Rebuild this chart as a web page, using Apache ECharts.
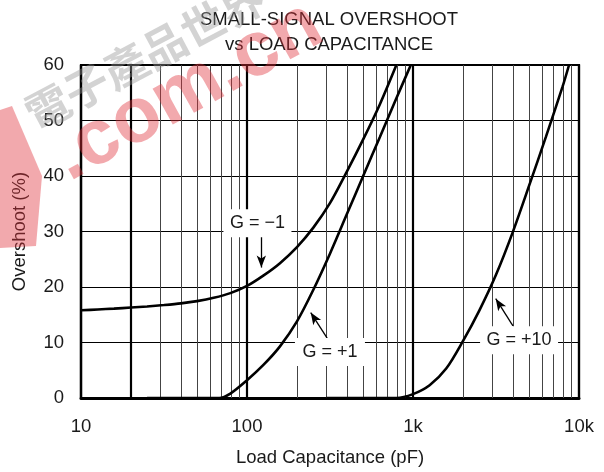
<!DOCTYPE html>
<html style="height: 100%">
<head>
<meta charset="utf-8">
<style type="text/css">
  body, html { margin: 0; width: 100%; height: 100%; background: #fff; }
  #chart { width: 604px; height: 472px; }
</style>
</head>
<body>
<div id="chart"></div>
<script type="text/javascript" src="https://cdn.jsdelivr.net/npm/echarts@6/dist/echarts.min.js"></script>
<script type="text/javascript">
// load capacitance (pF) / overshoot (%)
var gm1X = [10, 12.6, 15.8, 20, 25, 31.6, 40, 50, 63, 79.4, 100, 126, 158, 200, 251, 316, 398, 501, 631, 794];
var gm1Y = [15.8, 15.95, 16.1, 16.3, 16.5, 16.75, 17.05, 17.45, 18.05, 18.9, 20.2, 22.1, 24.3, 27.2, 30.7, 35.1, 40.7, 46.6, 52.9, 60];
var gp1X = [25, 40, 55, 68, 79.4, 100, 126, 158, 200, 251, 316, 398, 501, 631, 794, 970];
var gp1Y = [0, 0, 0, 0, 0.8, 3.2, 6.0, 9.3, 13.8, 19.5, 26, 33, 40, 47, 54, 60];
var gp10X = [300, 500, 794, 1000, 1259, 1585, 1995, 2512, 3162, 3981, 5012, 6310, 7943, 8710];
var gp10Y = [0, 0, 0, 0.7, 2.3, 5.3, 10.2, 15.8, 22.2, 29.8, 38.3, 47.0, 56.0, 60];

var xTickVals = [10, 100, 1000, 10000];
var xTickText = ['10', '100', '1k', '10k'];
var minorLines = [20, 30, 40, 50, 60, 70, 80, 90,
                  200, 300, 400, 500, 600, 700, 800, 900,
                  2000, 3000, 4000, 5000, 6000, 7000, 8000, 9000];
var heavyLines = [20];

var labelText = ['G = \u22121', 'G = +1', 'G = +10'];
var labelX = [115.6, 316, 4355];
var labelY = [31.5, 8.3, 10.4];
var labelW = [68, 70, 78];
var arrowFrom = [[122, 29.3], [304, 10.8], [4000, 13.0]];
var arrowTo = [[122, 23.5], [242, 15.4], [3150, 17.9]];

var font = 'Liberation Sans, Arial, sans-serif';
var ink = '#1a1a1a';
var fs = 18.5;

function pairs(xs, ys) {
  var out = [];
  for (var i = 0; i < xs.length; i++) out.push([xs[i], ys[i]]);
  return out;
}

var chart = echarts.init(document.getElementById('chart'), null, { renderer: 'canvas' });

var vLines = [];
for (var i = 0; i < minorLines.length; i++) {
  var heavy = heavyLines.indexOf(minorLines[i]) >= 0;
  vLines.push({
    xAxis: minorLines[i],
    lineStyle: { color: heavy ? '#000' : '#444', width: heavy ? 2.2 : 1, type: 'solid' }
  });
}
var arrows = [];
for (var i = 0; i < arrowFrom.length; i++) {
  arrows.push([{ coord: arrowFrom[i], symbol: 'none' }, { coord: arrowTo[i], symbol: 'arrow', symbolSize: [7, 12] }]);
}
var boxes = [];
for (var i = 0; i < labelText.length; i++) {
  boxes.push({
    coord: [labelX[i], labelY[i]],
    symbol: 'rect',
    symbolSize: [labelW[i], 28],
    itemStyle: { color: '#fff' },
    label: { show: true, position: 'inside', formatter: labelText[i], color: ink, fontSize: 18, fontFamily: font }
  });
}

function curve(name, xs, ys) {
  return {
    name: name,
    type: 'line',
    data: pairs(xs, ys),
    smooth: 0.3,
    symbol: 'none',
    z: 5,
    lineStyle: { color: '#000', width: 2.6 }
  };
}

var option = {
  animation: false,
  backgroundColor: '#fff',
  title: {
    text: 'SMALL-SIGNAL OVERSHOOT\nvs LOAD CAPACITANCE',
    left: 324,
    top: 2,
    textAlign: 'center',
    textStyle: { fontSize: fs, fontWeight: 'normal', color: ink, fontFamily: font, lineHeight: 25 }
  },
  grid: {
    left: 81, right: 25, top: 65, bottom: 71,
    show: true, borderColor: '#000', borderWidth: 2.2
  },
  xAxis: {
    type: 'log',
    logBase: 10,
    min: 10,
    max: 10000,
    name: 'Load Capacitance (pF)',
    nameLocation: 'middle',
    nameGap: 50,
    nameTextStyle: { fontSize: fs, color: ink, fontFamily: font },
    axisLine: { show: true, lineStyle: { color: '#000', width: 3 } },
    axisTick: { show: false },
    axisLabel: {
      fontSize: fs, color: ink, fontFamily: font, margin: 19,
      formatter: function (v) {
        var k = xTickVals.indexOf(Math.round(v));
        return k >= 0 ? xTickText[k] : '';
      }
    },
    splitLine: { show: true, lineStyle: { color: '#000', width: 2.2 } }
  },
  yAxis: {
    type: 'value',
    min: 0,
    max: 60,
    interval: 10,
    name: 'Overshoot (%)',
    nameLocation: 'middle',
    nameGap: 52,
    nameTextStyle: { fontSize: fs, color: ink, fontFamily: font },
    axisLine: { show: true, lineStyle: { color: '#000', width: 2.2 } },
    axisTick: { show: false },
    axisLabel: { fontSize: fs, color: ink, fontFamily: font, margin: 17 },
    splitLine: { show: true, lineStyle: { color: '#000', width: 1 } }
  },
  series: [
    {
      name: 'grid',
      type: 'line',
      data: [],
      z: 1,
      silent: true,
      markLine: {
        silent: true,
        symbol: 'none',
        animation: false,
        label: { show: false },
        data: vLines
      }
    },
    {
      name: 'notes',
      type: 'line',
      data: [],
      z: 4,
      silent: true,
      markPoint: { silent: true, animation: false, data: boxes },
      markLine: {
        silent: true,
        animation: false,
        label: { show: false },
        lineStyle: { color: '#000', width: 1.3, type: 'solid' },
        data: arrows
      }
    },
    curve('G = -1', gm1X, gm1Y),
    curve('G = +1', gp1X, gp1Y),
    curve('G = +10', gp10X, gp10Y)
  ],
  graphic: [
    {
      type: 'text', left: 18, top: -26, rotation: Math.PI * 28 / 180, z: 100, silent: true,
      style: { text: '\u96fb\u5b50\u7522\u54c1\u4e16\u754c', fontSize: 44, fontWeight: 'bold', fontFamily: 'Noto Sans CJK TC', fill: 'rgba(150,150,150,0.42)' }
    },
    {
      type: 'text', left: 40, top: -14, rotation: Math.PI * 29 / 180, z: 100, silent: true,
      style: { text: '.com.cn', fontSize: 78, fontWeight: 'bold', fontFamily: 'Liberation Sans, Arial', fill: 'rgba(225,50,60,0.42)' }
    },
    {
      type: 'polygon', z: 100, silent: true,
      shape: { points: [[0, 110], [12, 106], [42, 176], [36, 246], [0, 248]] },
      style: { fill: 'rgba(225,50,60,0.42)' }
    }
  ]
};
chart.setOption(option);
</script>
</body>
</html>
